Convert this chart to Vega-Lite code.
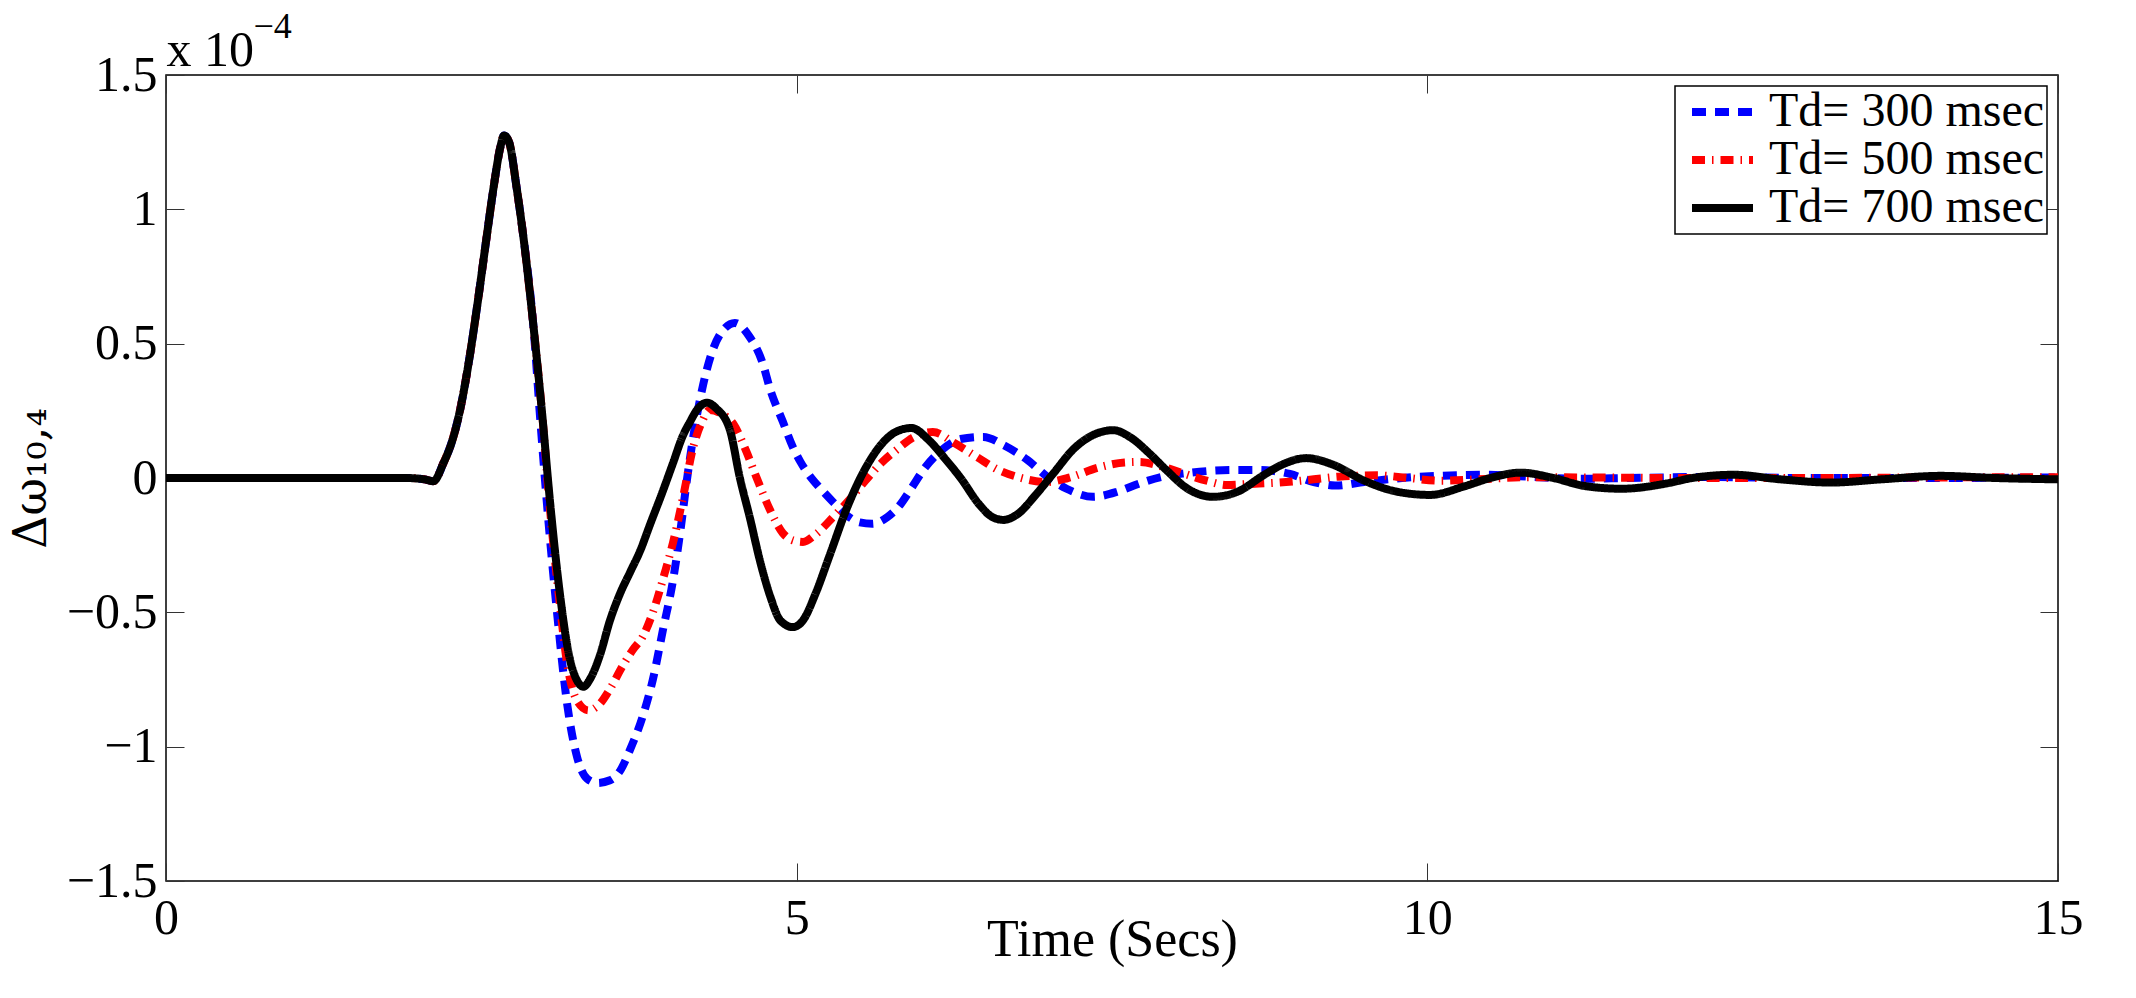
{
  "$schema": "https://vega.github.io/schema/vega-lite/v6.json",
  "autosize": {"type": "none"},
  "padding": {"left": 166, "top": 75, "right": 78, "bottom": 117},
  "width": 1892,
  "height": 806,
  "background": "white",
  "config": {
    "view": {"stroke": "black", "strokeWidth": 1.5},
    "axis": {"domain": false, "grid": false, "tickSize": -18, "tickColor": "#333", "tickWidth": 1, "labelFont": "Liberation Serif", "labelFontSize": 50, "labelColor": "black", "titleFont": "Liberation Serif", "titleFontWeight": "normal", "titleColor": "black", "labelFlush": false, "labelOverlap": false},
    "legend": {"orient": "top-right", "offset": 11, "strokeColor": "black", "strokeWidth": 1.5, "fillColor": "white", "padding": 2, "clipHeight": 48, "labelFont": "Liberation Serif", "labelFontSize": 48, "labelColor": "black", "labelLimit": 0, "labelOffset": 12, "symbolType": "stroke", "symbolStrokeWidth": 8, "symbolSize": 3721, "symbolOffset": 11, "rowPadding": 0, "title": null, "cornerRadius": 0}
  },
  "data": {"values": [
    {"series":"Td= 300 msec","time":0,"value":0},{"series":"Td= 300 msec","time":1,"value":0},{"series":"Td= 300 msec","time":1.9,"value":0},{"series":"Td= 300 msec","time":2.05,"value":-0.005},{"series":"Td= 300 msec","time":2.12,"value":-0.012},{"series":"Td= 300 msec","time":2.2,"value":0.056},{"series":"Td= 300 msec","time":2.27,"value":0.14},{"series":"Td= 300 msec","time":2.33,"value":0.25},{"series":"Td= 300 msec","time":2.4,"value":0.43},{"series":"Td= 300 msec","time":2.47,"value":0.65},{"series":"Td= 300 msec","time":2.54,"value":0.89},{"series":"Td= 300 msec","time":2.6,"value":1.09},{"series":"Td= 300 msec","time":2.65,"value":1.23},{"series":"Td= 300 msec","time":2.68,"value":1.275},{"series":"Td= 300 msec","time":2.72,"value":1.25},{"series":"Td= 300 msec","time":2.78,"value":1.08},{"series":"Td= 300 msec","time":2.83,"value":0.91},{"series":"Td= 300 msec","time":2.91,"value":0.58},
    {"series":"Td= 300 msec","time":2.97,"value":0.2},{"series":"Td= 300 msec","time":3.03,"value":-0.15},{"series":"Td= 300 msec","time":3.1,"value":-0.5},{"series":"Td= 300 msec","time":3.18,"value":-0.84},{"series":"Td= 300 msec","time":3.26,"value":-1.04},{"series":"Td= 300 msec","time":3.34,"value":-1.12},{"series":"Td= 300 msec","time":3.42,"value":-1.135},{"series":"Td= 300 msec","time":3.52,"value":-1.125},{"series":"Td= 300 msec","time":3.6,"value":-1.09},{"series":"Td= 300 msec","time":3.68,"value":-1.01},{"series":"Td= 300 msec","time":3.78,"value":-0.886},{"series":"Td= 300 msec","time":3.86,"value":-0.75},{"series":"Td= 300 msec","time":3.94,"value":-0.565},{"series":"Td= 300 msec","time":4.02,"value":-0.38},{"series":"Td= 300 msec","time":4.08,"value":-0.19},{"series":"Td= 300 msec","time":4.13,"value":-0.007},{"series":"Td= 300 msec","time":4.18,"value":0.153},{"series":"Td= 300 msec","time":4.26,"value":0.35},{"series":"Td= 300 msec","time":4.33,"value":0.47},{"series":"Td= 300 msec","time":4.4,"value":0.54},{"series":"Td= 300 msec","time":4.51,"value":0.577},{"series":"Td= 300 msec","time":4.62,"value":0.53},{"series":"Td= 300 msec","time":4.73,"value":0.428},{"series":"Td= 300 msec","time":4.79,"value":0.33},{"series":"Td= 300 msec","time":4.89,"value":0.21},{"series":"Td= 300 msec","time":4.97,"value":0.115},{"series":"Td= 300 msec","time":5.03,"value":0.06},{"series":"Td= 300 msec","time":5.1,"value":0.01},{"series":"Td= 300 msec","time":5.19,"value":-0.04},{"series":"Td= 300 msec","time":5.29,"value":-0.09},{"series":"Td= 300 msec","time":5.4,"value":-0.14},{"series":"Td= 300 msec","time":5.5,"value":-0.165},{"series":"Td= 300 msec","time":5.6,"value":-0.17},{"series":"Td= 300 msec","time":5.72,"value":-0.145},{"series":"Td= 300 msec","time":5.82,"value":-0.1},{"series":"Td= 300 msec","time":5.9,"value":-0.045},{"series":"Td= 300 msec","time":6.02,"value":0.04},{"series":"Td= 300 msec","time":6.14,"value":0.1},{"series":"Td= 300 msec","time":6.3,"value":0.145},{"series":"Td= 300 msec","time":6.48,"value":0.153},{"series":"Td= 300 msec","time":6.65,"value":0.12},{"series":"Td= 300 msec","time":6.83,"value":0.067},{"series":"Td= 300 msec","time":7.0,"value":0.0},{"series":"Td= 300 msec","time":7.14,"value":-0.04},{"series":"Td= 300 msec","time":7.35,"value":-0.07},{"series":"Td= 300 msec","time":7.55,"value":-0.05},{"series":"Td= 300 msec","time":7.72,"value":-0.02},{"series":"Td= 300 msec","time":7.9,"value":0.005},{"series":"Td= 300 msec","time":8.09,"value":0.018},{"series":"Td= 300 msec","time":8.46,"value":0.03},{"series":"Td= 300 msec","time":8.65,"value":0.03},{"series":"Td= 300 msec","time":8.91,"value":0.015},{"series":"Td= 300 msec","time":9.1,"value":-0.015},{"series":"Td= 300 msec","time":9.27,"value":-0.028},{"series":"Td= 300 msec","time":9.5,"value":-0.015},{"series":"Td= 300 msec","time":9.8,"value":0.0},{"series":"Td= 300 msec","time":10.1,"value":0.008},{"series":"Td= 300 msec","time":10.47,"value":0.012},{"series":"Td= 300 msec","time":10.8,"value":0.005},{"series":"Td= 300 msec","time":11.2,"value":-0.003},{"series":"Td= 300 msec","time":11.6,"value":0.0},{"series":"Td= 300 msec","time":12.2,"value":0.004},{"series":"Td= 300 msec","time":13,"value":0.0},{"series":"Td= 300 msec","time":14,"value":0.0},{"series":"Td= 300 msec","time":15,"value":0.002},

    {"series":"Td= 500 msec","time":0,"value":0},{"series":"Td= 500 msec","time":1,"value":0},{"series":"Td= 500 msec","time":1.9,"value":0},{"series":"Td= 500 msec","time":2.05,"value":-0.005},{"series":"Td= 500 msec","time":2.12,"value":-0.012},{"series":"Td= 500 msec","time":2.2,"value":0.056},{"series":"Td= 500 msec","time":2.27,"value":0.14},{"series":"Td= 500 msec","time":2.33,"value":0.25},{"series":"Td= 500 msec","time":2.4,"value":0.43},{"series":"Td= 500 msec","time":2.47,"value":0.65},{"series":"Td= 500 msec","time":2.54,"value":0.89},{"series":"Td= 500 msec","time":2.6,"value":1.09},{"series":"Td= 500 msec","time":2.65,"value":1.23},{"series":"Td= 500 msec","time":2.68,"value":1.275},{"series":"Td= 500 msec","time":2.72,"value":1.25},{"series":"Td= 500 msec","time":2.78,"value":1.08},{"series":"Td= 500 msec","time":2.83,"value":0.91},{"series":"Td= 500 msec","time":2.91,"value":0.58},
    {"series":"Td= 500 msec","time":2.98,"value":0.25},{"series":"Td= 500 msec","time":3.045,"value":-0.12},{"series":"Td= 500 msec","time":3.12,"value":-0.46},{"series":"Td= 500 msec","time":3.18,"value":-0.69},{"series":"Td= 500 msec","time":3.26,"value":-0.83},{"series":"Td= 500 msec","time":3.35,"value":-0.865},{"series":"Td= 500 msec","time":3.44,"value":-0.84},{"series":"Td= 500 msec","time":3.52,"value":-0.785},{"series":"Td= 500 msec","time":3.62,"value":-0.7},{"series":"Td= 500 msec","time":3.7,"value":-0.64},{"series":"Td= 500 msec","time":3.78,"value":-0.59},{"series":"Td= 500 msec","time":3.86,"value":-0.5},{"series":"Td= 500 msec","time":3.95,"value":-0.36},{"series":"Td= 500 msec","time":4.02,"value":-0.24},{"series":"Td= 500 msec","time":4.1,"value":-0.07},{"series":"Td= 500 msec","time":4.18,"value":0.115},{"series":"Td= 500 msec","time":4.25,"value":0.21},{"series":"Td= 500 msec","time":4.31,"value":0.253},{"series":"Td= 500 msec","time":4.4,"value":0.24},{"series":"Td= 500 msec","time":4.5,"value":0.2},{"series":"Td= 500 msec","time":4.6,"value":0.1},{"series":"Td= 500 msec","time":4.68,"value":0.004},{"series":"Td= 500 msec","time":4.79,"value":-0.12},{"series":"Td= 500 msec","time":4.89,"value":-0.205},{"series":"Td= 500 msec","time":4.97,"value":-0.232},{"series":"Td= 500 msec","time":5.05,"value":-0.238},{"series":"Td= 500 msec","time":5.15,"value":-0.21},{"series":"Td= 500 msec","time":5.29,"value":-0.145},{"series":"Td= 500 msec","time":5.42,"value":-0.08},{"series":"Td= 500 msec","time":5.55,"value":-0.007},{"series":"Td= 500 msec","time":5.68,"value":0.06},{"series":"Td= 500 msec","time":5.79,"value":0.104},{"series":"Td= 500 msec","time":5.92,"value":0.15},{"series":"Td= 500 msec","time":6.08,"value":0.171},{"series":"Td= 500 msec","time":6.25,"value":0.13},{"series":"Td= 500 msec","time":6.43,"value":0.078},{"series":"Td= 500 msec","time":6.6,"value":0.03},{"series":"Td= 500 msec","time":6.75,"value":0.004},{"series":"Td= 500 msec","time":6.98,"value":-0.015},{"series":"Td= 500 msec","time":7.15,"value":0.0},{"series":"Td= 500 msec","time":7.4,"value":0.04},{"series":"Td= 500 msec","time":7.6,"value":0.058},{"series":"Td= 500 msec","time":7.72,"value":0.06},{"series":"Td= 500 msec","time":7.9,"value":0.042},{"series":"Td= 500 msec","time":8.06,"value":0.018},{"series":"Td= 500 msec","time":8.25,"value":-0.01},{"series":"Td= 500 msec","time":8.41,"value":-0.026},{"series":"Td= 500 msec","time":8.6,"value":-0.022},{"series":"Td= 500 msec","time":8.88,"value":-0.015},{"series":"Td= 500 msec","time":9.1,"value":-0.005},{"series":"Td= 500 msec","time":9.3,"value":0.005},{"series":"Td= 500 msec","time":9.6,"value":0.01},{"series":"Td= 500 msec","time":9.85,"value":0.0},{"series":"Td= 500 msec","time":10.1,"value":-0.01},{"series":"Td= 500 msec","time":10.4,"value":-0.005},{"series":"Td= 500 msec","time":10.8,"value":0.003},{"series":"Td= 500 msec","time":11.3,"value":0.002},{"series":"Td= 500 msec","time":12,"value":0.0},{"series":"Td= 500 msec","time":13,"value":0.0},{"series":"Td= 500 msec","time":14,"value":0.002},{"series":"Td= 500 msec","time":15,"value":0.003},

    {"series":"Td= 700 msec","time":0,"value":0},{"series":"Td= 700 msec","time":1,"value":0},{"series":"Td= 700 msec","time":1.9,"value":0},{"series":"Td= 700 msec","time":2.05,"value":-0.005},{"series":"Td= 700 msec","time":2.12,"value":-0.012},{"series":"Td= 700 msec","time":2.2,"value":0.056},{"series":"Td= 700 msec","time":2.27,"value":0.14},{"series":"Td= 700 msec","time":2.33,"value":0.25},{"series":"Td= 700 msec","time":2.4,"value":0.43},{"series":"Td= 700 msec","time":2.47,"value":0.65},{"series":"Td= 700 msec","time":2.54,"value":0.89},{"series":"Td= 700 msec","time":2.6,"value":1.09},{"series":"Td= 700 msec","time":2.65,"value":1.23},{"series":"Td= 700 msec","time":2.68,"value":1.275},{"series":"Td= 700 msec","time":2.72,"value":1.25},{"series":"Td= 700 msec","time":2.78,"value":1.08},{"series":"Td= 700 msec","time":2.83,"value":0.91},{"series":"Td= 700 msec","time":2.91,"value":0.58},
    {"series":"Td= 700 msec","time":2.98,"value":0.25},{"series":"Td= 700 msec","time":3.045,"value":-0.09},{"series":"Td= 700 msec","time":3.12,"value":-0.42},{"series":"Td= 700 msec","time":3.2,"value":-0.67},{"series":"Td= 700 msec","time":3.26,"value":-0.755},{"series":"Td= 700 msec","time":3.31,"value":-0.777},{"series":"Td= 700 msec","time":3.36,"value":-0.75},{"series":"Td= 700 msec","time":3.44,"value":-0.66},{"series":"Td= 700 msec","time":3.52,"value":-0.53},{"series":"Td= 700 msec","time":3.6,"value":-0.43},{"series":"Td= 700 msec","time":3.68,"value":-0.35},{"series":"Td= 700 msec","time":3.76,"value":-0.27},{"series":"Td= 700 msec","time":3.84,"value":-0.17},{"series":"Td= 700 msec","time":3.93,"value":-0.06},{"series":"Td= 700 msec","time":4.02,"value":0.056},{"series":"Td= 700 msec","time":4.1,"value":0.16},{"series":"Td= 700 msec","time":4.15,"value":0.205},{"series":"Td= 700 msec","time":4.22,"value":0.26},{"series":"Td= 700 msec","time":4.29,"value":0.28},{"series":"Td= 700 msec","time":4.36,"value":0.26},{"series":"Td= 700 msec","time":4.47,"value":0.18},{"series":"Td= 700 msec","time":4.55,"value":0.0},{"series":"Td= 700 msec","time":4.63,"value":-0.15},{"series":"Td= 700 msec","time":4.71,"value":-0.31},{"series":"Td= 700 msec","time":4.79,"value":-0.44},{"series":"Td= 700 msec","time":4.87,"value":-0.53},{"series":"Td= 700 msec","time":4.97,"value":-0.555},{"series":"Td= 700 msec","time":5.05,"value":-0.53},{"series":"Td= 700 msec","time":5.15,"value":-0.43},{"series":"Td= 700 msec","time":5.26,"value":-0.29},{"series":"Td= 700 msec","time":5.4,"value":-0.11},{"series":"Td= 700 msec","time":5.55,"value":0.04},{"series":"Td= 700 msec","time":5.7,"value":0.14},{"series":"Td= 700 msec","time":5.8,"value":0.175},{"series":"Td= 700 msec","time":5.91,"value":0.186},{"series":"Td= 700 msec","time":6.05,"value":0.14},{"series":"Td= 700 msec","time":6.18,"value":0.07},{"series":"Td= 700 msec","time":6.3,"value":0.0},{"series":"Td= 700 msec","time":6.45,"value":-0.1},{"series":"Td= 700 msec","time":6.55,"value":-0.145},{"series":"Td= 700 msec","time":6.64,"value":-0.156},{"series":"Td= 700 msec","time":6.75,"value":-0.135},{"series":"Td= 700 msec","time":6.9,"value":-0.06},{"series":"Td= 700 msec","time":7.04,"value":0.02},{"series":"Td= 700 msec","time":7.2,"value":0.11},{"series":"Td= 700 msec","time":7.35,"value":0.16},{"series":"Td= 700 msec","time":7.51,"value":0.178},{"series":"Td= 700 msec","time":7.65,"value":0.15},{"series":"Td= 700 msec","time":7.8,"value":0.09},{"series":"Td= 700 msec","time":7.93,"value":0.03},{"series":"Td= 700 msec","time":8.1,"value":-0.04},{"series":"Td= 700 msec","time":8.3,"value":-0.07},{"series":"Td= 700 msec","time":8.5,"value":-0.05},{"series":"Td= 700 msec","time":8.7,"value":0.01},{"series":"Td= 700 msec","time":8.85,"value":0.05},{"series":"Td= 700 msec","time":9.04,"value":0.074},{"series":"Td= 700 msec","time":9.25,"value":0.05},{"series":"Td= 700 msec","time":9.5,"value":-0.01},{"series":"Td= 700 msec","time":9.75,"value":-0.05},{"series":"Td= 700 msec","time":10.02,"value":-0.063},{"series":"Td= 700 msec","time":10.3,"value":-0.03},{"series":"Td= 700 msec","time":10.5,"value":0.0},{"series":"Td= 700 msec","time":10.74,"value":0.02},{"series":"Td= 700 msec","time":11.0,"value":0.0},{"series":"Td= 700 msec","time":11.25,"value":-0.03},{"series":"Td= 700 msec","time":11.54,"value":-0.04},{"series":"Td= 700 msec","time":11.9,"value":-0.02},{"series":"Td= 700 msec","time":12.1,"value":0.0},{"series":"Td= 700 msec","time":12.43,"value":0.012},{"series":"Td= 700 msec","time":12.8,"value":-0.005},{"series":"Td= 700 msec","time":13.2,"value":-0.017},{"series":"Td= 700 msec","time":13.6,"value":-0.005},{"series":"Td= 700 msec","time":14.07,"value":0.008},{"series":"Td= 700 msec","time":14.5,"value":0.0},{"series":"Td= 700 msec","time":15,"value":-0.005}
  ]},
  "layer": [
    {
      "mark": {"type": "line", "interpolate": "monotone", "strokeWidth": 8, "strokeCap": "butt", "strokeJoin": "round", "clip": true},
      "encoding": {
        "x": {"field": "time", "type": "quantitative", "scale": {"domain": [0, 15], "nice": false, "zero": false},
              "axis": {"orient": "bottom", "values": [0, 5, 10, 15], "labelPadding": 70, "labelBaseline": "alphabetic", "labelAlign": "center",
                       "title": "Time (Secs)", "titleFontSize": 52, "titleX": 946, "titleY": 74, "titleAlign": "center", "titleBaseline": "alphabetic"}},
        "y": {"field": "value", "type": "quantitative", "scale": {"domain": [-1.5, 1.5], "nice": false, "zero": false},
              "axis": {"orient": "left", "values": [-1.5, -1, -0.5, 0, 0.5, 1, 1.5], "format": "~g", "labelPadding": 27, "labelBaseline": "middle", "labelAlign": "right",
                       "title": "Δω₁₀,₄", "titleFont": "DejaVu Serif", "titleFontSize": 46, "titleAngle": 270, "titleX": -121, "titleY": 403, "titleAlign": "center", "titleBaseline": "alphabetic"}},
        "color": {"field": "series", "type": "nominal", "scale": {"domain": ["Td= 300 msec", "Td= 500 msec", "Td= 700 msec"], "range": ["#0000ff", "#ff0000", "#000000"]}},
        "strokeDash": {"field": "series", "type": "nominal", "scale": {"domain": ["Td= 300 msec", "Td= 500 msec", "Td= 700 msec"], "range": [[14, 9], [13, 7, 1.5, 7], [1, 0]]}}
      }
    },
    {
      "mark": {"type": "point", "opacity": 0},
      "encoding": {
        "x": {"field": "time", "type": "quantitative", "scale": {"domain": [0, 15], "nice": false, "zero": false},
              "axis": {"orient": "top", "values": [0, 5, 10, 15], "labels": false, "title": "x 10", "titleFontSize": 50, "titleX": 0, "titleY": -10, "titleAlign": "left", "titleBaseline": "alphabetic"}},
        "y": {"field": "value", "type": "quantitative", "scale": {"domain": [-1.5, 1.5], "nice": false, "zero": false},
              "axis": {"orient": "right", "values": [-1.5, -1, -0.5, 0, 0.5, 1, 1.5], "labels": false, "title": "−4", "titleFontSize": 36, "titleAngle": 0, "titleX": -1805, "titleY": -38, "titleAlign": "left", "titleBaseline": "alphabetic"}}
      }
    }
  ],
  "resolve": {"axis": {"x": "independent", "y": "independent"}}
}
